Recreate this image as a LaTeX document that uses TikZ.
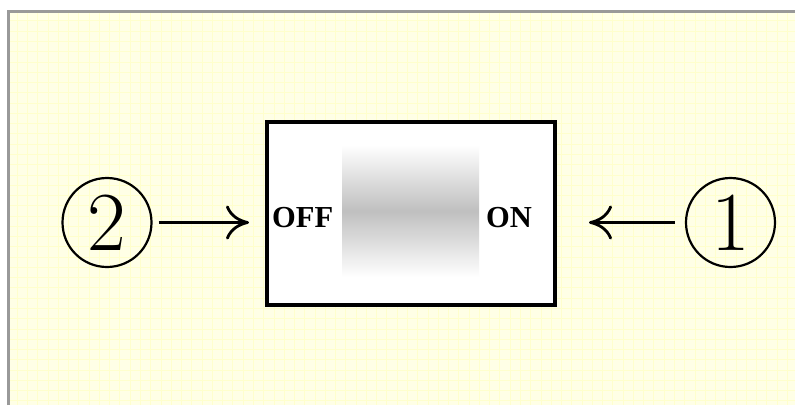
\documentclass[tikz,border=0pt]{standalone}
\usepackage{fontspec}
\newfontfamily\timesfont{Liberation Serif}
\usetikzlibrary{arrows.meta}
\definecolor{bgyellow}{RGB}{255,255,230}
\definecolor{gridyellow}{RGB}{255,255,205}
\definecolor{framegray}{RGB}{153,153,153}
\tikzset{
  numcircle/.style={circle, draw, line width=2.2pt, minimum size=89pt, inner sep=0pt,
    font=\fontsize{84}{84}\selectfont},
  switchbox/.style={draw, line width=4pt, fill=white, minimum width=288pt, minimum height=183pt,
    inner sep=0pt, outer sep=0pt},
  label/.style={inner sep=0pt, anchor=base west, font=\timesfont\bfseries\fontsize{30.5}{30.5}\selectfont},
  arr/.style={line width=2.8pt, -{Computer Modern Rightarrow[length=23pt,width=34pt,line width=2.8pt]}}
}
\begin{document}
\begin{tikzpicture}[x=1pt,y=-1pt]
\useasboundingbox (0,0) rectangle (795,405);
% background
\fill[white] (0,0) rectangle (795,405);
\fill[bgyellow] (9,11.5) rectangle (795,405);
\foreach \i in {0,...,76} {
  \draw[gridyellow, line width=0.7pt] ({17.1+\i*10.27},11.5) -- ({17.1+\i*10.27},405);
}
\foreach \j in {0,...,38} {
  \draw[gridyellow, line width=0.7pt] (9,{20.8+\j*10.27}) -- (795,{20.8+\j*10.27});
}
\draw[framegray, line width=3pt] (8.5,405) -- (8.5,11) -- (795,11);
% switch box
\node[switchbox] (box) at (411,213.5) {};
\shade[top color=white, bottom color=white, middle color=black!25] (342,145) rectangle (479,277);
\node[label] (off) at (272,227) {OFF};
\node[label] (on) at (486,227) {ON};
% circled numbers
\node[numcircle] (c2) at (107,222.5) {2};
\node[numcircle] (c1) at (730.5,222.5) {1};
% arrows
\draw[arr, shorten <=6pt, shorten >=18pt] (c2.east) -- (c2.east -| box.west);
\draw[arr, shorten <=10pt, shorten >=34pt] (c1.west) -- (c1.west -| box.east);
\end{tikzpicture}
\end{document}
